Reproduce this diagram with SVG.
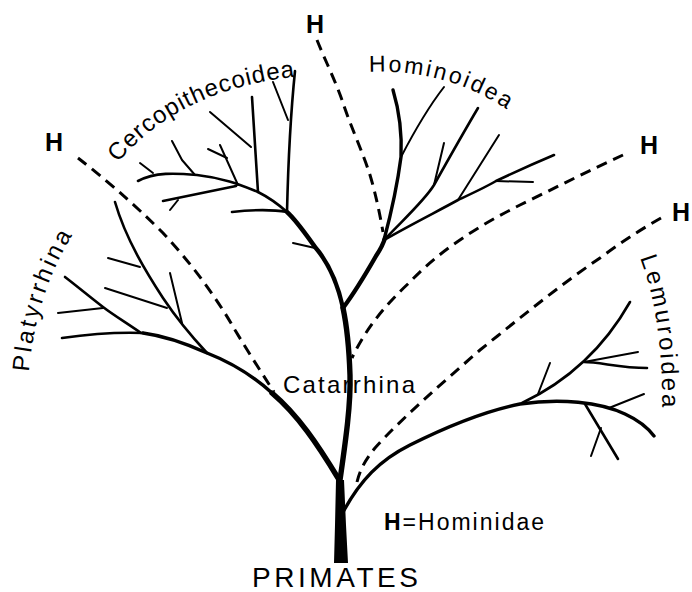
<svg xmlns="http://www.w3.org/2000/svg" width="692" height="592" viewBox="0 0 692 592">
<defs>
<style>
.br{fill:none;stroke:#000;stroke-linecap:round;stroke-linejoin:round}
.t1{stroke-width:2}
.t2{stroke-width:2.6}
.t3{stroke-width:3.4}
.t4{stroke-width:4.4}
.t5{stroke-width:5.4}
.dash{fill:none;stroke:#000;stroke-width:3;stroke-dasharray:11 7}
.lbl{font-family:"Liberation Sans","DejaVu Sans",sans-serif;fill:#000}
.hh{font-family:"Liberation Sans","DejaVu Sans",sans-serif;font-weight:bold;font-size:25px;fill:#000;text-anchor:middle}
</style>
<path id="pCerco" d="M 118 163 Q 180 88 302 76"/>
<path id="pHomino" d="M 369 72 Q 448 68 514 114"/>
<path id="pPlaty" d="M 29 372 Q 36 290 78 226"/>
<path id="pLemur" d="M 640 258 Q 664 320 662 418"/>
</defs>
<rect width="692" height="592" fill="#fff"/>

<g id="connectors">
<path class="dash" d="M 317 40 C 325 60, 335 80, 342 100 C 350 125, 362 150, 370 175 C 376 195, 380 215, 383 232"/>
<path class="dash" d="M 78 158 C 100 175, 130 200, 163 233 C 190 262, 215 295, 235 330 C 250 355, 265 378, 274 392"/>
<path class="dash" d="M 623 155 C 590 170, 555 188, 520 205 C 480 225, 440 250, 410 282 C 385 305, 365 330, 352 358"/>
<path class="dash" d="M 661 218 C 640 230, 620 243, 600 258 C 560 285, 520 318, 480 350 C 440 385, 400 420, 375 448 C 365 460, 360 470, 357 482"/>
</g>

<g id="trunk">
<path d="M 334 563 L 348 563 L 346 525 L 344 480 L 336 480 L 335 525 Z" fill="#000"/>
<path class="br t5" d="M 340 480 C 345 445, 351 405, 350 375 C 349 345, 346 322, 343 308"/>
</g>

<g id="platyrrhina">
<path class="br t5" d="M 338 478 C 318 445, 298 415, 272 393"/>
<path class="br t3" d="M 272 393 C 250 373, 230 362, 207 353 C 185 343, 165 336, 143 333"/>
<path class="br t2" d="M 143 333 C 115 332, 90 334, 62 338"/>
<path class="br t2" d="M 141 333 C 125 322, 112 314, 103 307 C 90 297, 78 287, 65 277"/>
<path class="br t1" d="M 103 308 L 58 313"/>
<path class="br t2" d="M 207 353 C 193 338, 175 316, 163 298 C 148 275, 126 240, 115 202"/>
<path class="br t1" d="M 167 308 L 105 288"/>
<path class="br t1" d="M 182 323 L 170 273"/>
<path class="br t1" d="M 140 267 L 108 258"/>
</g>

<g id="cercopithecoidea">
<path class="br t4" d="M 343 308 C 338 285, 328 262, 315 247 C 305 233, 296 220, 287 212"/>
<path class="br t1" d="M 315 248 L 293 243"/>
<path class="br t2" d="M 287 212 C 270 209, 250 210, 232 212"/>
<path class="br t2" d="M 287 212 C 288 170, 290 120, 295 71"/>
<path class="br t1" d="M 288 120 L 273 82"/>
<path class="br t2" d="M 287 212 C 278 204, 268 197, 258 192 C 245 187, 225 178, 197 175 C 175 173, 155 172, 138 181"/>
<path class="br t2" d="M 258 192 C 256 160, 254 130, 252 97"/>
<path class="br t1" d="M 251 147 L 210 112"/>
<path class="br t1" d="M 238 185 L 220 145"/>
<path class="br t1" d="M 208 149 L 227 158"/>
<path class="br t2" d="M 236 186 L 163 201"/>
<path class="br t1" d="M 178 200 L 170 210"/>
<path class="br t1" d="M 195 175 L 182 160 L 172 141"/>
<path class="br t1" d="M 153 173 L 140 163"/>
</g>

<g id="hominoidea">
<path class="br t4" d="M 343 308 C 355 292, 368 270, 376 256 C 380 250, 383 245, 385 238"/>
<path class="br t3" d="M 384 240 C 392 210, 398 180, 401 157 C 402 135, 399 110, 393 90"/>
<path class="br t1" d="M 401 157 C 415 130, 430 105, 444 87"/>
<path class="br t2" d="M 384 240 C 405 218, 425 200, 434 185 C 448 160, 462 135, 478 108"/>
<path class="br t1" d="M 434 185 L 444 143"/>
<path class="br t2" d="M 384 240 C 410 225, 440 210, 458 200 C 475 192, 488 186, 496 181 C 515 172, 535 163, 554 155"/>
<path class="br t1" d="M 458 200 L 499 135"/>
<path class="br t1" d="M 496 181 L 533 182"/>
</g>

<g id="lemuroidea">
<path class="br t3" d="M 342 514 C 360 480, 380 460, 410 445 C 440 430, 480 412, 520 404 C 560 398, 600 402, 625 414 C 638 420, 648 428, 654 436"/>
<path class="br t2" d="M 522 403 C 560 385, 600 355, 630 302"/>
<path class="br t1" d="M 538 394 L 550 363"/>
<path class="br t1" d="M 584 362 L 638 352"/>
<path class="br t2" d="M 584 362 C 600 362, 620 368, 647 368"/>
<path class="br t1" d="M 609 408 L 644 394"/>
<path class="br t2" d="M 585 404 L 618 459"/>
<path class="br t1" d="M 601 428 L 591 456"/>
</g>

<g id="labels">
<text class="lbl" font-size="24" letter-spacing="1"><textPath href="#pCerco">Cercopithecoidea</textPath></text>
<text class="lbl" font-size="23" letter-spacing="2.5"><textPath href="#pHomino">Hominoidea</textPath></text>
<text class="lbl" font-size="24" letter-spacing="3"><textPath href="#pPlaty">Platyrrhina</textPath></text>
<text class="lbl" font-size="24" letter-spacing="2.8"><textPath href="#pLemur">Lemuroidea</textPath></text>
<text class="lbl" x="283" y="393" font-size="24" textLength="132" lengthAdjust="spacing">Catarrhina</text>
<text class="lbl" x="252" y="587" font-size="28" textLength="166" lengthAdjust="spacing">PRIMATES</text>
<text class="lbl" x="384" y="530" font-size="23" textLength="160" lengthAdjust="spacing"><tspan font-weight="bold">H</tspan>=Hominidae</text>
</g>

<g id="h-marks">
<text class="hh" x="315" y="33">H</text>
<text class="hh" x="54" y="151">H</text>
<text class="hh" x="649" y="154">H</text>
<text class="hh" x="681" y="221">H</text>
</g>
</svg>
